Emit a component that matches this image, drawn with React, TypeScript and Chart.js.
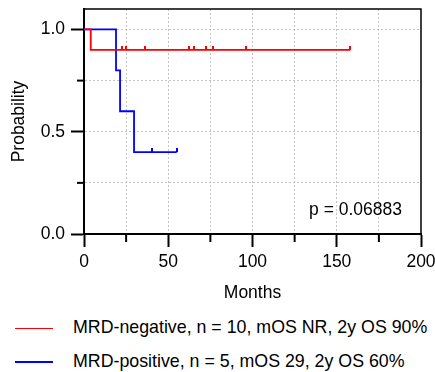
import React, { useEffect, useRef } from 'react';
import { Chart, registerables } from 'chart.js';

Chart.register(...registerables);

// ---- data ----
const xTickValues = [0, 25, 50, 75, 100, 125, 150, 175, 200];
const xLabelled = [0, 50, 100, 150, 200];
const yTickValues = [0, 0.25, 0.5, 0.75, 1.0];
const yLabelled = [0, 0.5, 1.0];

const negTimes = [0, 4, 158];
const negSurv = [1.0, 0.9, 0.9];
const negCensor = [22.6, 25.0, 36.4, 62.1, 65.3, 72.4, 76.7, 96.1, 158];

const posTimes = [0, 19, 21.4, 29.7, 55];
const posSurv = [1.0, 0.8, 0.6, 0.4, 0.4];
const posCensor = [40.5, 55];

const legendLabels = [
  'MRD-negative, n = 10, mOS NR, 2y OS 90%',
  'MRD-positive, n = 5, mOS 29, 2y OS 60%',
];
const seriesColors = ['#ff0000', '#0000ff'];
const pValueText = 'p = 0.06883';
const xTitle = 'Months';
const yTitle = 'Probability';

const FONT = "'Liberation Sans', Arial, Helvetica, sans-serif";
const FS = 17.5;
const LEGEND_FS = 17.8;

function survAt(times: number[], surv: number[], t: number) {
  let s = surv[0];
  for (let i = 0; i < times.length; i++) if (times[i] <= t) s = surv[i];
  return s;
}

function makeCensorMark(color: string) {
  const c = document.createElement('canvas');
  c.width = 2;
  c.height = 8;
  const g = c.getContext('2d')!;
  g.fillStyle = color;
  g.fillRect(0, 0, 2, 4);
  return c;
}

const W = 435;
const H = 310;

export default function App() {
  const ref = useRef<HTMLCanvasElement | null>(null);

  useEffect(() => {
    if (!ref.current) return;

    const framePlugin = {
      id: 'frameAndMinor',
      afterDraw(chart: any) {
        const { ctx, chartArea, scales } = chart;
        const { left, right, top, bottom } = chartArea;
        ctx.save();
        ctx.strokeStyle = '#000';
        ctx.lineWidth = 1.5;
        ctx.beginPath();
        ctx.moveTo(left, top);
        ctx.lineTo(right, top);
        ctx.lineTo(right, bottom);
        ctx.stroke();
        // minor ticks
        ctx.lineWidth = 2;
        xTickValues.filter((v) => !xLabelled.includes(v)).forEach((v) => {
          const px = scales.x.getPixelForValue(v);
          ctx.beginPath();
          ctx.moveTo(px, bottom);
          ctx.lineTo(px, bottom + 8);
          ctx.stroke();
        });
        yTickValues.filter((v) => !yLabelled.includes(v)).forEach((v) => {
          const py = scales.y.getPixelForValue(v);
          ctx.beginPath();
          ctx.moveTo(left - 7, py);
          ctx.lineTo(left, py);
          ctx.stroke();
        });
        // p value
        ctx.fillStyle = '#000';
        ctx.font = `${FS}px ${FONT}`;
        ctx.textAlign = 'right';
        ctx.textBaseline = 'middle';
        ctx.fillText(pValueText, right - 19, bottom - 24);
        ctx.restore();
      },
    };

    const km = (times: number[], surv: number[]) =>
      times.map((t, i) => ({ x: t, y: surv[i] }));
    const cens = (times: number[], surv: number[], c: number[]) =>
      c.map((t) => ({ x: t, y: survAt(times, surv, t) }));

    const chart = new Chart(ref.current, {
      type: 'scatter',
      data: {
        datasets: [
          {
            label: legendLabels[0],
            data: km(negTimes, negSurv),
            showLine: true,
            stepped: 'before',
            borderColor: seriesColors[0],
            borderWidth: 1.8,
            pointRadius: 0,
          },
          {
            label: legendLabels[1],
            data: km(posTimes, posSurv),
            showLine: true,
            stepped: 'before',
            borderColor: seriesColors[1],
            borderWidth: 1.8,
            pointRadius: 0,
          },
          {
            label: 'neg censored',
            data: cens(negTimes, negSurv, negCensor),
            showLine: false,
            pointStyle: makeCensorMark(seriesColors[0]) as any,
            pointRadius: 4,
          },
          {
            label: 'pos censored',
            data: cens(posTimes, posSurv, posCensor),
            showLine: false,
            pointStyle: makeCensorMark(seriesColors[1]) as any,
            pointRadius: 4,
          },
        ],
      },
      options: {
        animation: false,
        responsive: false,
        devicePixelRatio: 1,
        layout: { padding: { top: 9, right: 14, left: 0, bottom: 0 } },
        plugins: {
          legend: { display: false },
          tooltip: { enabled: false },
        },
        scales: {
          x: {
            type: 'linear',
            min: 0,
            max: 200,
            afterBuildTicks: (axis: any) => {
              axis.ticks = xTickValues.map((v) => ({ value: v }));
            },
            afterFit: (scale: any) => {
              scale.height = H - 234;
              scale.paddingRight = 0;
              scale.paddingLeft = 0;
            },
            ticks: {
              color: '#000',
              padding: 5,
              maxRotation: 0,
              autoSkip: false,
              font: { family: FONT, size: FS },
              callback: (v: any) => (xLabelled.includes(Number(v)) ? String(v) : ''),
            },
            grid: {
              color: (c: any) =>
                c.tick && (c.tick.value === 0 || c.tick.value === 200)
                  ? 'rgba(0,0,0,0)'
                  : '#c4c4c4',
              lineWidth: 1,
              tickLength: 13,
              tickWidth: 2,
              tickColor: (c: any) =>
                c.tick && xLabelled.includes(c.tick.value) ? '#000' : 'rgba(0,0,0,0)',
            },
            border: { color: '#000', width: 2, dash: [2, 2] },
            title: {
              display: true,
              text: xTitle,
              color: '#000',
              font: { family: FONT, size: FS },
              padding: { top: 0, bottom: 6 },
            },
          },
          y: {
            type: 'linear',
            min: 0,
            max: 1.1,
            afterBuildTicks: (axis: any) => {
              axis.ticks = yTickValues.map((v) => ({ value: v }));
            },
            afterFit: (scale: any) => {
              scale.width = 84;
              scale.paddingTop = 0;
              scale.paddingBottom = 0;
            },
            ticks: {
              color: '#000',
              padding: 6,
              autoSkip: false,
              font: { family: FONT, size: FS },
              callback: (v: any) =>
                yLabelled.includes(Number(v)) ? Number(v).toFixed(1) : '',
            },
            grid: {
              color: (c: any) =>
                c.tick && c.tick.value === 0 ? 'rgba(0,0,0,0)' : '#c4c4c4',
              lineWidth: 1,
              tickLength: 13,
              tickWidth: 2,
              tickColor: (c: any) =>
                c.tick && yLabelled.includes(c.tick.value) ? '#000' : 'rgba(0,0,0,0)',
            },
            border: { color: '#000', width: 2, dash: [2, 2] },
            title: {
              display: true,
              text: yTitle,
              color: '#000',
              font: { family: FONT, size: FS },
              padding: { top: 8.5, bottom: 0 },
            },
          },
        },
      },
      plugins: [framePlugin],
    } as any);

    return () => chart.destroy();
  }, []);

  const rowTops = [317.4, 350.8];
  const lineYs = [327.5, 361];

  return (
    <div style={{ position: 'absolute', left: 0, top: 0, width: W, height: 372, background: '#fff' }}>
      <canvas ref={ref} width={W} height={H} style={{ position: 'absolute', left: 0, top: 0, width: W, height: H }} />
      {legendLabels.map((lab, i) => (
        <React.Fragment key={lab}>
          <div
            style={{
              position: 'absolute',
              left: 15,
              top: lineYs[i],
              width: 38,
              height: 1.5,
              background: seriesColors[i],
            }}
          />
          <div
            style={{
              position: 'absolute',
              left: 73,
              top: rowTops[i],
              fontFamily: FONT,
              fontSize: LEGEND_FS,
              lineHeight: '21px',
              color: '#000',
              whiteSpace: 'nowrap',
            }}
          >
            {lab}
          </div>
        </React.Fragment>
      ))}
    </div>
  );
}
